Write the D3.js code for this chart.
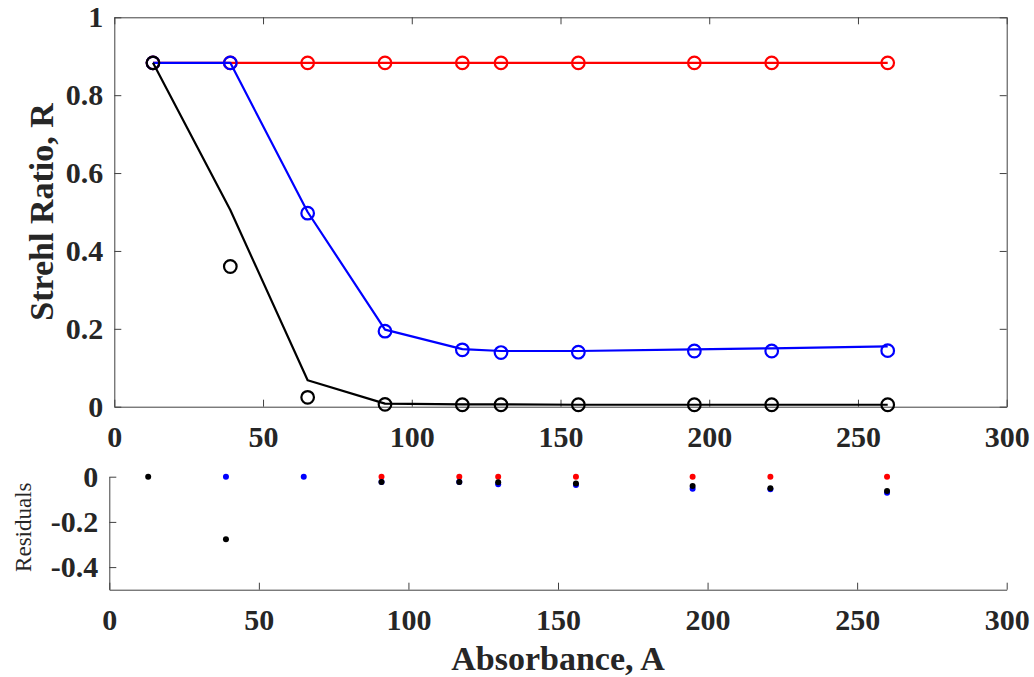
<!DOCTYPE html>
<html>
<head>
<meta charset="utf-8">
<script src="https://cdn.jsdelivr.net/npm/d3@7"></script>
<style>
  html, body { margin: 0; padding: 0; background: #fff; }
  svg { display: block; }
  text { font-family: "Liberation Serif", "Times New Roman", serif; fill: #262626; }
</style>
</head>
<body>
<svg id="chart" width="1034" height="677"></svg>
<script>
// ---- data ----
const absorbance = [13, 39, 65, 91, 117, 130, 156, 195, 221, 260];

const redData  = [0.883, 0.883, 0.883, 0.883, 0.883, 0.883, 0.883, 0.883, 0.883, 0.883];
const redFit   = [0.883, 0.883, 0.883, 0.883, 0.883, 0.883, 0.883, 0.883, 0.883, 0.883];
const blueData = [0.883, 0.883, 0.497, 0.194, 0.146, 0.139, 0.140, 0.143, 0.143, 0.144];
const blueFit  = [0.883, 0.883, 0.500, 0.198, 0.148, 0.143, 0.143, 0.147, 0.150, 0.155];
const blackData = [0.883, 0.360, 0.024, 0.006, 0.005, 0.005, 0.005, 0.005, 0.005, 0.005];
const blackFit  = [0.883, 0.505, 0.068, 0.008, 0.006, 0.006, 0.005, 0.005, 0.005, 0.005];

// residuals (null = not shown)
const redResid   = [null, null, null, 0, 0, 0, 0, 0, 0, 0];
const blueResid  = [null, 0, 0, -0.023, -0.024, -0.033, -0.037, -0.053, -0.056, -0.071];
const blackResid = [0, -0.277, null, -0.023, -0.024, -0.025, -0.030, -0.041, -0.051, -0.063];

const xTicks = [0, 50, 100, 150, 200, 250, 300];
const yTicks = [0, 0.2, 0.4, 0.6, 0.8, 1];
const residTicks = [0, -0.2, -0.4];

const series = [
  { color: "#ff0000", data: redData,   fit: redFit,   resid: redResid },
  { color: "#0000ff", data: blueData,  fit: blueFit,  resid: blueResid },
  { color: "#000000", data: blackData, fit: blackFit, resid: blackResid }
];

// ---- layout ----
const svg = d3.select("#chart");
const axisColor = "#404040";
const fmt = d => String(+(+d).toFixed(1));

const xTop = d3.scaleLinear().domain([0, 300]).range([114.3, 1006.7]);
const yTop = d3.scaleLinear().domain([0, 1]).range([406.7, 17.3]);
const xRes = d3.scaleLinear().domain([0, 300]).range([109.3, 1006.7]);
const yRes = d3.scaleLinear().domain([-0.5, 0]).range([589.7, 476.7]);

function styleAxis(g, fontSize, hideText) {
  g.selectAll("path.domain").attr("stroke", axisColor).attr("stroke-width", 1);
  g.selectAll(".tick line").attr("stroke", axisColor).attr("stroke-width", 1);
  g.selectAll(".tick text")
    .style("font-family", '"Liberation Serif", "Times New Roman", serif')
    .style("font-weight", "bold")
    .style("font-size", fontSize + "px")
    .attr("fill", "#262626");
  if (hideText) g.selectAll(".tick text").remove();
}

// ---- top plot ----
const mainG = svg.append("g");
mainG.append("g").attr("transform", `translate(0,${yTop(0)})`)
  .call(d3.axisBottom(xTop).tickValues(xTicks).tickFormat(fmt).tickSize(-7).tickSizeOuter(0).tickPadding(19))
  .call(g => styleAxis(g, 30, false));
mainG.append("g").attr("transform", `translate(0,${yTop(1)})`)
  .call(d3.axisTop(xTop).tickValues(xTicks).tickSize(-7).tickSizeOuter(0))
  .call(g => styleAxis(g, 30, true));
mainG.append("g").attr("transform", `translate(${xTop(0)},0)`)
  .call(d3.axisLeft(yTop).tickValues(yTicks).tickFormat(fmt).tickSize(-7).tickSizeOuter(0).tickPadding(11))
  .call(g => styleAxis(g, 30, false));
mainG.append("g").attr("transform", `translate(${xTop(300)},0)`)
  .call(d3.axisRight(yTop).tickValues(yTicks).tickSize(-7).tickSizeOuter(0))
  .call(g => styleAxis(g, 30, true));

const line = d3.line().x((d, i) => xTop(absorbance[i])).y(d => yTop(d));

series.forEach(s => {
  mainG.append("path").datum(s.fit)
    .attr("d", line)
    .attr("fill", "none")
    .attr("stroke", s.color)
    .attr("stroke-width", 2.2)
    .attr("stroke-linejoin", "round");
  mainG.append("g").selectAll("circle").data(s.data).join("circle")
    .attr("cx", (d, i) => xTop(absorbance[i]))
    .attr("cy", d => yTop(d))
    .attr("r", 6.3)
    .attr("fill", "none")
    .attr("stroke", s.color)
    .attr("stroke-width", 2.2);
});

mainG.append("text")
  .attr("transform", `translate(53,${(yTop(0) + yTop(1)) / 2}) rotate(-90)`)
  .attr("text-anchor", "middle")
  .style("font-size", "34px")
  .style("font-weight", "bold")
  .text("Strehl Ratio, R");

// ---- residual plot ----
const resG = svg.append("g");
resG.append("g").attr("transform", `translate(0,${yRes(-0.5)})`)
  .call(d3.axisBottom(xRes).tickValues(xTicks).tickFormat(fmt).tickSize(-7).tickSizeOuter(0).tickPadding(19))
  .call(g => styleAxis(g, 30, false));
resG.append("g").attr("transform", `translate(${xRes(0)},0)`)
  .call(d3.axisLeft(yRes).tickValues(residTicks).tickFormat(fmt).tickSize(-7).tickSizeOuter(0).tickPadding(11))
  .call(g => styleAxis(g, 30, false));

series.forEach(s => {
  const pts = s.resid.map((v, i) => ({ x: absorbance[i], v })).filter(p => p.v !== null);
  resG.append("g").selectAll("circle").data(pts).join("circle")
    .attr("cx", d => xRes(d.x))
    .attr("cy", d => yRes(d.v))
    .attr("r", 3)
    .attr("fill", s.color);
});

resG.append("text")
  .attr("transform", `translate(31,${(yRes(0) + yRes(-0.5)) / 2 - 6}) rotate(-90)`)
  .attr("text-anchor", "middle")
  .style("font-size", "23px")
  .text("Residuals");

resG.append("text")
  .attr("x", (xRes(0) + xRes(300)) / 2)
  .attr("y", 670)
  .attr("text-anchor", "middle")
  .style("font-size", "34px")
  .style("font-weight", "bold")
  .text("Absorbance, A");
</script>
</body>
</html>
